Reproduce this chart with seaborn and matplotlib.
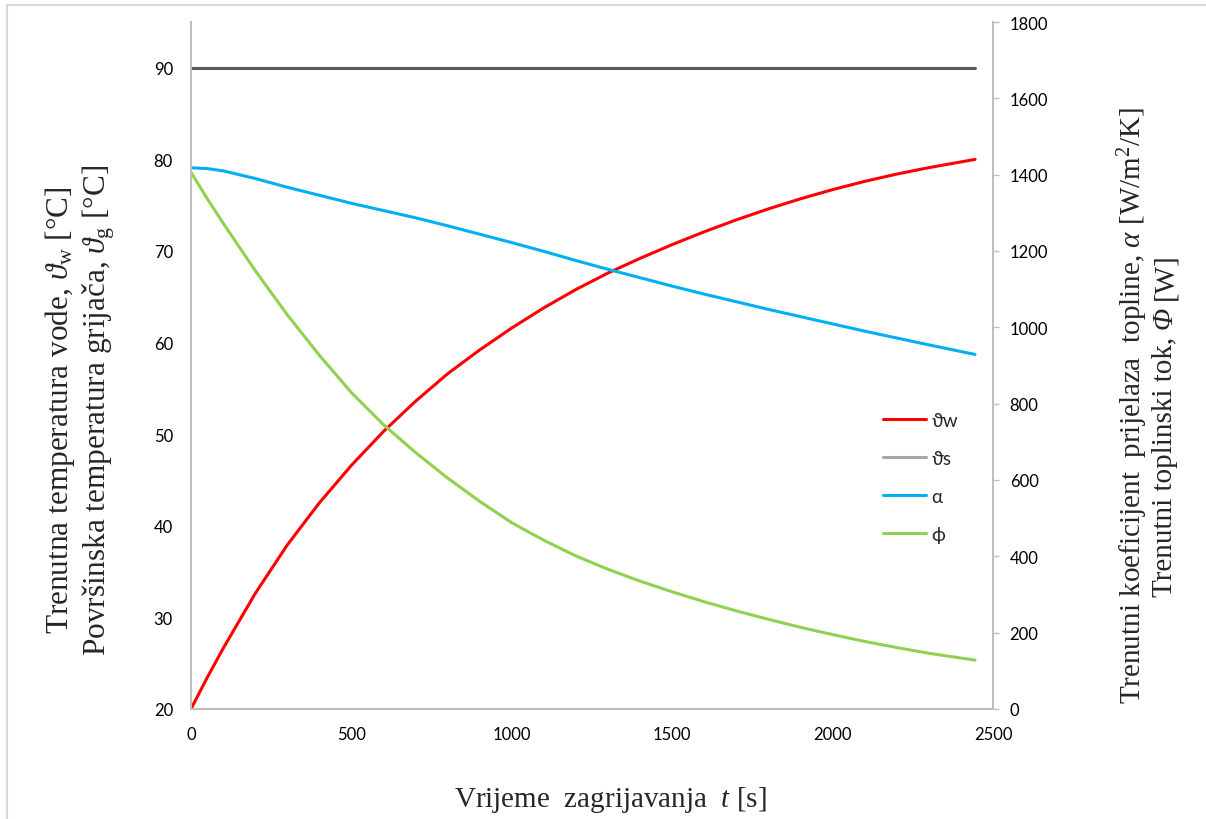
import matplotlib
matplotlib.use("Agg")
import matplotlib.pyplot as plt
from matplotlib.lines import Line2D
from matplotlib.patches import Rectangle
import seaborn as sns
import pandas as pd

# ---- data ----
t_s = [0, 50, 100, 200, 300, 400, 500, 600, 700, 800, 900, 1000, 1100, 1200,
       1300, 1400, 1500, 1600, 1700, 1800, 1900, 2000, 2100, 2200, 2300, 2444]
theta_w = [20.0, 23.4, 26.6, 32.6, 37.9, 42.5, 46.6, 50.3, 53.6, 56.6, 59.2, 61.6, 63.8, 65.8,
           67.6, 69.2, 70.7, 72.1, 73.4, 74.6, 75.7, 76.7, 77.6, 78.4, 79.1, 80.0]
theta_s = [90.0] * len(t_s)
alpha = [1418, 1416, 1410, 1390, 1367, 1346, 1325, 1306, 1287, 1266, 1244, 1222, 1199, 1175,
         1152, 1130, 1108, 1087, 1067, 1047, 1028, 1009, 990, 972, 954, 929]
phi = [1406, 1338, 1273, 1149, 1033, 927, 829, 745, 672, 605, 544, 488, 442, 401,
       366, 335, 307, 281, 257, 235, 214, 195, 177, 161, 146, 128]

series_names = ['ϑw', 'ϑs', 'α', 'ϕ']
line_colors = ['#ff0000', '#595959', '#00b0f0', '#92d050']
legend_colors = ['#ff0000', '#a6a6a6', '#00b0f0', '#92d050']

df = pd.DataFrame({'t': t_s, 'theta_w': theta_w, 'theta_s': theta_s,
                   'alpha': alpha, 'phi': phi})

sns.set_style('white')
plt.rcParams['font.family'] = ['Lato', 'DejaVu Sans']
plt.rcParams.update({
    'mathtext.fontset': 'custom',
    'mathtext.rm': 'Liberation Serif',
    'mathtext.it': 'Liberation Serif:italic',
    'mathtext.bf': 'Liberation Serif:bold',
    'mathtext.fallback': 'stix',
})

W, H = 1206, 820
fig = plt.figure(figsize=(W / 100, H / 100), dpi=100)
ax = fig.add_axes([191 / W, 1 - 710 / H, (993 - 191) / W, (710 - 23) / H])
ax2 = ax.twinx()

lw = 2.2
sns.lineplot(data=df, x='t', y='theta_w', ax=ax, color=line_colors[0], lw=lw)
sns.lineplot(data=df, x='t', y='theta_s', ax=ax, color=line_colors[1], lw=lw)
sns.lineplot(data=df, x='t', y='alpha', ax=ax2, color=line_colors[2], lw=lw)
sns.lineplot(data=df, x='t', y='phi', ax=ax2, color=line_colors[3], lw=lw)

ax.set_xlim(0, 2500)
ax.set_ylim(20, 95)
ax2.set_ylim(0, 1800)
ax.set_xticks(range(0, 2501, 500))
ax.set_yticks(range(20, 91, 10))
ax2.set_yticks(range(0, 1801, 200))

for a in (ax, ax2):
    a.set_xlabel('')
    a.set_ylabel('')
    a.grid(False)
    for sp in a.spines.values():
        sp.set_color('#bfbfbf')
        sp.set_linewidth(1.3)
    a.spines['top'].set_visible(False)

ax.tick_params(axis='x', length=0, pad=12, labelsize=12, colors='black')
ax.tick_params(axis='y', length=0, pad=13, labelsize=12, colors='black')
ax2.tick_params(axis='y', length=4, width=1, color='#bfbfbf', pad=8,
                labelsize=12, labelcolor='black')

# legend
handles = [Line2D([], [], color=c, lw=lw) for c in legend_colors]
fig.legend(handles, series_names, loc='upper left',
           bbox_to_anchor=(866 / W, 1 - 396 / H), frameon=False,
           fontsize=13.5, handlelength=2.3, labelspacing=1.12, handletextpad=0.3)

# axis titles
serif = 'Liberation Serif'
fig.text(80 / W, 1 - 410 / H,
         'Trenutna temperatura vode, $\\vartheta_{\\mathrm{w}}$ [°C]\n'
         'Površinska temperatura grijača, $\\vartheta_{\\mathrm{g}}$ [°C]',
         rotation=90, ha='center', va='center', multialignment='center',
         fontsize=22.5, family=serif, linespacing=1.1)
fig.text(1133 / W, 1 - 405 / H,
         'Trenutni koeficijent  prijelaza  topline, $\\alpha$ [W/m$^2$/K]',
         rotation=90, ha='center', va='center', fontsize=21, family=serif)
fig.text(610 / W, 1 - 800 / H, 'Vrijeme  zagrijavanja  $t$ [s]',
         ha='center', va='center', fontsize=21, family=serif)

# second right-hand line: italic Phi needs its own text piece
renderer = fig.canvas.get_renderer()
pieces = [('Trenutni toplinski tok,', 'normal'), ('Φ', 'italic'), ('[W]', 'normal')]
gap = 0.26 * 21 * 100 / 72  # one space, in pixels
texts, sizes = [], []
for s, style in pieces:
    tx = fig.text(0, 0, s, rotation=90, ha='center', va='bottom',
                  fontsize=21, family=serif, style=style)
    texts.append(tx)
    sizes.append(tx.get_window_extent(renderer).height)
total = sum(sizes) + gap * (len(sizes) - 1)
y_px = (H - 425) - total / 2
for tx, h in zip(texts, sizes):
    tx.set_position((1165 / W, y_px / H))
    y_px += h + gap

# outer chart frame
fig.patches.append(Rectangle((7 / W, -0.2), 1.2, 1.2 - 6 / H, fill=False,
                             edgecolor='#d9d9d9', lw=1.5,
                             transform=fig.transFigure, figure=fig))

fig.savefig('out.png', dpi=100, facecolor='white')
